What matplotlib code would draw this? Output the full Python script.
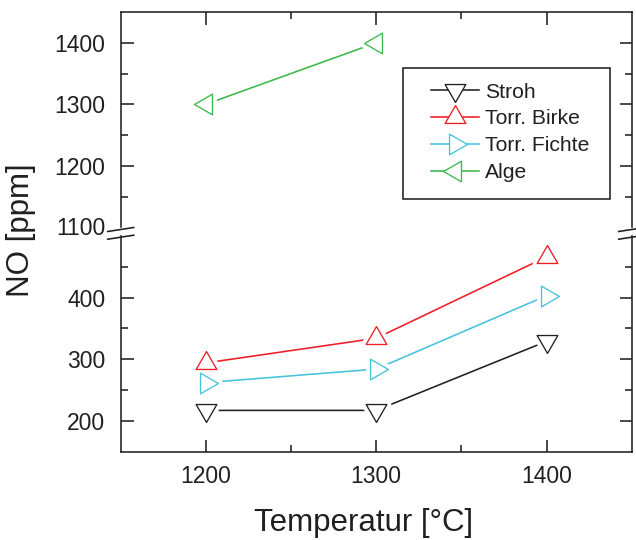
import matplotlib
matplotlib.use("Agg")
import matplotlib.pyplot as plt
from matplotlib.lines import Line2D
from matplotlib.markers import MarkerStyle
from matplotlib.path import Path
from matplotlib.patches import Rectangle
from matplotlib.ticker import FixedLocator

plt.rcParams['font.family'] = ['Liberation Sans', 'DejaVu Sans']

# ---- data ----
temperatures = [1200, 1300, 1400]
stroh = [217, 217, 329]
birke = [294, 334, 466]
fichte = [262, 284, 403]
alge_temps = [1200, 1300]
alge = [1300, 1400]

labels = ["Stroh", "Torr. Birke", "Torr. Fichte", "Alge"]
colors = ["#231f20", "#ee1d25", "#45c2dc", "#3cb84a"]

W, H = 636, 540
fig = plt.figure(figsize=(W / 100, H / 100), dpi=100)

def fx(px):
    return px / W

def fy(py):
    return 1 - py / H

left, right = 120.7, 631.7
top_u, bot_u = 12.0, 227.3
top_l, bot_l = 235.9, 451.7

ax_u = fig.add_axes([fx(left), fy(bot_u), fx(right) - fx(left), fy(top_u) - fy(bot_u)])
ax_l = fig.add_axes([fx(left), fy(bot_l), fx(right) - fx(left), fy(top_l) - fy(bot_l)])

# equilateral triangle markers centred on centroid
def tri(direction):
    pts = {
        'up': [(0, 1.1547), (-1, -0.5774), (1, -0.5774)],
        'down': [(0, -1.1547), (-1, 0.5774), (1, 0.5774)],
        'right': [(1.1547, 0), (-0.5774, 1), (-0.5774, -1)],
        'left': [(-1.1547, 0), (0.5774, 1), (0.5774, -1)],
    }[direction]
    verts = pts + [pts[0]]
    codes = [Path.MOVETO, Path.LINETO, Path.LINETO, Path.CLOSEPOLY]
    return Path(verts, codes)

markers = [tri('down'), tri('up'), tri('right'), tri('left')]
MS = 17.2
LW = 1.15
MEW = 0.95

series = [
    (ax_l, temperatures, stroh),
    (ax_l, temperatures, birke),
    (ax_l, temperatures, fichte),
    (ax_u, alge_temps, alge),
]

for (ax, xs, ys), c, m in zip(series, colors, markers):
    ax.plot(xs, ys, color=c, lw=LW, zorder=2, solid_capstyle='butt')
    ax.plot(xs, ys, ls='none', marker=MarkerStyle(m, joinstyle='round'), ms=MS,
            mfc='white', mec='white', mew=6.5, zorder=3)
    ax.plot(xs, ys, ls='none', marker=MarkerStyle(m), ms=MS,
            mfc='none', mec=c, mew=MEW, zorder=4)

for ax in (ax_u, ax_l):
    ax.set_xlim(1150, 1450)
    ax.xaxis.set_major_locator(FixedLocator([1200, 1300, 1400]))
    ax.xaxis.set_minor_locator(FixedLocator([1250, 1350]))
    for s in ax.spines.values():
        s.set_linewidth(1.15)
        s.set_color('#231f20')
    ax.tick_params(which='both', direction='in', width=1.15, color='#231f20',
                   labelsize=16.5, labelcolor='#231f20')
    ax.tick_params(which='major', length=9)
    ax.tick_params(which='minor', length=4.7)
    ax.tick_params(axis='y', which='both', left=True, right=True, pad=11)

ax_u.set_ylim(1100, 1450)
ax_u.yaxis.set_major_locator(FixedLocator([1200, 1300, 1400]))
ax_u.yaxis.set_minor_locator(FixedLocator([1150, 1250, 1350]))
ax_u.spines['bottom'].set_visible(False)
ax_u.tick_params(axis='x', which='both', top=True, bottom=False, labelbottom=False)
ax_u.annotate('1100', xy=(0, 1100), xycoords=('axes fraction', 'data'),
              xytext=(-11, 1), textcoords='offset points', ha='right',
              va='center_baseline', fontsize=16.5, color='#231f20')

ax_l.set_ylim(150, 500)
ax_l.yaxis.set_major_locator(FixedLocator([200, 300, 400]))
ax_l.yaxis.set_minor_locator(FixedLocator([250, 350, 450]))
ax_l.spines['top'].set_visible(False)
ax_l.tick_params(axis='x', which='both', top=False, bottom=True, pad=9.5)

# break marks
for xc in (left, right):
    for yc in (229.5, 237.2):
        fig.add_artist(Line2D([fx(xc - 13), fx(xc + 13)], [fy(yc + 2), fy(yc - 2)],
                              transform=fig.transFigure, color='#231f20', lw=1.15))

# axis labels
fig.text(fx(21), fy(230), 'NO [ppm]', rotation=90, ha='center', va='center',
         fontsize=22.5, color='#231f20')
fig.text(fx(364), fy(523), 'Temperatur [°C]', ha='center', va='center',
         fontsize=22.5, color='#231f20')

# legend
handles = [Line2D([], [], color=c, lw=LW, marker=MarkerStyle(m), ms=MS,
                  mfc='white', mec=c, mew=MEW) for c, m in zip(colors, markers)]
fig.legend(handles, labels, loc='upper left',
           bbox_to_anchor=(fx(430.7), fy(82.5)),
           bbox_transform=fig.transFigure, frameon=False, borderpad=0,
           borderaxespad=0, handlelength=2.3, handletextpad=0.29,
           labelspacing=0.37, fontsize=15.2, numpoints=1,
           labelcolor='#231f20')
fig.add_artist(Rectangle((fx(403.3), fy(199.3)), fx(610) - fx(403.3),
                         fy(68.3) - fy(199.3), transform=fig.transFigure,
                         fill=False, edgecolor='#231f20', lw=1.15))

fig.savefig('out.png', dpi=100)
